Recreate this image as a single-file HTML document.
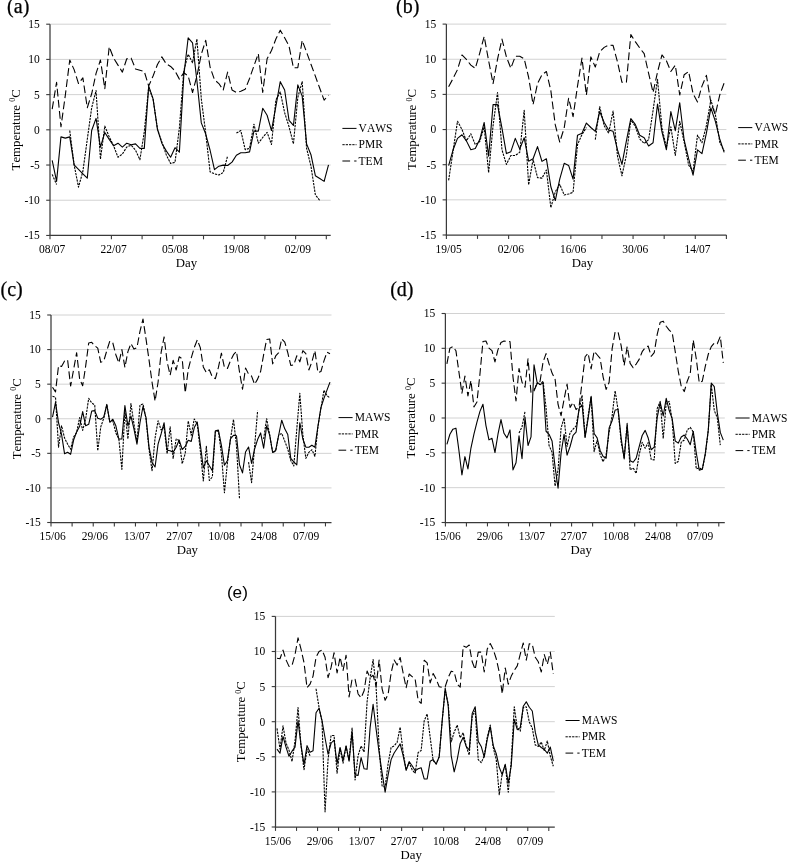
<!DOCTYPE html>
<html><head><meta charset="utf-8"><title>Figure</title>
<style>
html,body{margin:0;padding:0;background:#fff;}
svg{display:block;}
text{font-family:"Liberation Serif",serif;fill:#000;font-kerning:none;}
.t{font-size:11.5px;}
.a{font-size:12.8px;}
.l{font-size:11.5px;}
.p{font-size:20px;stroke:#000;stroke-width:0.25px;}
.ps{font-size:17.2px;font-family:"Liberation Sans",sans-serif;}
</style></head><body>
<svg width="790" height="865" viewBox="0 0 790 865">
<rect width="790" height="865" fill="#fff"/>
<g id="panel-a">
<line x1="50" x2="330.7" y1="24.2" y2="24.2" stroke="#d2d2d2" stroke-width="1"/>
<line x1="50" x2="330.7" y1="59.41" y2="59.41" stroke="#d2d2d2" stroke-width="1"/>
<line x1="50" x2="330.7" y1="94.62" y2="94.62" stroke="#d2d2d2" stroke-width="1"/>
<line x1="50" x2="330.7" y1="129.82" y2="129.82" stroke="#d2d2d2" stroke-width="1"/>
<line x1="50" x2="330.7" y1="165.03" y2="165.03" stroke="#d2d2d2" stroke-width="1"/>
<line x1="50" x2="330.7" y1="200.24" y2="200.24" stroke="#d2d2d2" stroke-width="1"/>
<polyline points="52.19,109.05 56.58,82.29 60.96,126.8 65.35,95.04 69.74,60.04 74.12,69.62 78.51,83.56 82.89,77.86 87.28,107.71 91.67,93.77 96.05,73.42 100.44,60.04 104.82,88.7 109.21,46.73 113.6,58.14 117.98,65.11 122.37,72.15 126.75,58.77 131.14,58.14 135.53,68.98 139.91,70.25 144.3,71.52 148.68,86.1 153.07,75.96 157.46,64.48 161.84,56.87 166.23,63.84 170.61,66.45 175,70.89 179.39,79.12 183.77,72.79 188.16,75.96 192.54,92.5 196.93,75.96 201.31,54.34 205.7,40.33 210.09,67.08 214.47,79.76 218.86,83.56 223.24,89.97 227.63,72.15 232.02,89.97 236.4,92.5 240.79,91.24 245.17,89.34 249.56,78.49 253.95,65.75 258.33,53.7 262.72,92.5 267.1,58.77 271.49,50.54 275.88,39.06 280.26,30.19 284.65,37.79 289.03,46.1 293.42,67.72 297.81,67.72 302.19,40.33 306.58,52.16 310.96,64.27 315.35,76.1 319.74,88.28 324.12,100.11 328.51,95.04" fill="none" stroke="#000" stroke-width="1.1" stroke-linejoin="round" stroke-dasharray="7.8 3.4"/>
<polyline points="52.19,174.4 56.58,184.54" fill="none" stroke="#000" stroke-width="1.1" stroke-linejoin="round" stroke-dasharray="2.3 1"/>
<polyline points="69.74,130.53 74.12,164.82 78.51,187.14 82.89,171.23 87.28,139.4 91.67,107.78 96.05,90.6 100.44,159.12 104.82,126.09 109.21,136.87 113.6,145.81 117.98,157.22 122.37,154.05 126.75,147.08 131.14,145.18 135.53,150.25 139.91,159.75 144.3,131.8 148.68,87.29 153.07,98.84 157.46,129.26 161.84,141.94 166.23,154.68 170.61,163.55 175,162.29 179.39,127.99 183.77,70.89 188.16,54.34 192.54,62.65 196.93,39.06 201.31,98.84 205.7,133.06 210.09,171.86 214.47,173.77 218.86,175.03 223.24,172.5 227.63,155.95" fill="none" stroke="#000" stroke-width="1.1" stroke-linejoin="round" stroke-dasharray="2.3 1"/>
<polyline points="236.4,133.06 240.79,130.53 245.17,149.61 249.56,148.34 253.95,124.19 258.33,143.2 262.72,137.5 267.1,132.43 271.49,144.54 275.88,99.97 280.26,91.87 284.65,112.71 289.03,126.73 293.42,143.84 297.81,97.43 302.19,81.66 306.58,148.34 310.96,166.16 315.35,194.75 319.74,200.45" fill="none" stroke="#000" stroke-width="1.1" stroke-linejoin="round" stroke-dasharray="2.3 1"/>
<polyline points="52.19,160.39 56.58,181.37 60.96,136.87 65.35,138.13 69.74,136.87 74.12,164.82 78.51,169.33 82.89,173.77 87.28,178.2 91.67,130.53 96.05,118.42 100.44,147.08 104.82,132.43 109.21,139.4 113.6,145.81 117.98,143.2 122.37,147.08 126.75,143.2 131.14,144.75 135.53,143.84 139.91,148.34 144.3,148.34 148.68,86.17 153.07,98.84 157.46,129.26 161.84,143.2 166.23,150.88 170.61,157.22 175,147.71 179.39,152.15 183.77,75.96 188.16,37.79 192.54,42.93 196.93,81.03 201.31,122.92 205.7,134.05 210.09,150.25 214.47,169.68 218.86,166.16 223.24,165.1 227.63,165.53 232.02,162.08 236.4,155.32 240.79,152.78 245.17,152.78 249.56,151.87 253.95,131.16 258.33,131.16 262.72,108.28 267.1,115.25 271.49,130.53 275.88,106.38 280.26,81.66 284.65,89.97 289.03,120.32 293.42,125.46 297.81,84.9 302.19,96.17 306.58,143.84 310.96,154.68 315.35,175.67 319.74,178.48 324.12,181.37 328.51,164.82" fill="none" stroke="#000" stroke-width="1.1" stroke-linejoin="round" />
<line x1="50" x2="50" y1="24.2" y2="235.45" stroke="#3a3a3a" stroke-width="1.25"/>
<line x1="49.4" x2="330.7" y1="235.45" y2="235.45" stroke="#3a3a3a" stroke-width="1.25"/>
<line x1="46.2" x2="50" y1="24.2" y2="24.2" stroke="#3a3a3a" stroke-width="1.1"/>
<text x="39.8" y="28.1" text-anchor="end" class="t">15</text>
<line x1="46.2" x2="50" y1="59.41" y2="59.41" stroke="#3a3a3a" stroke-width="1.1"/>
<text x="39.8" y="63.31" text-anchor="end" class="t">10</text>
<line x1="46.2" x2="50" y1="94.62" y2="94.62" stroke="#3a3a3a" stroke-width="1.1"/>
<text x="39.8" y="98.52" text-anchor="end" class="t">5</text>
<line x1="46.2" x2="50" y1="129.82" y2="129.82" stroke="#3a3a3a" stroke-width="1.1"/>
<text x="39.8" y="133.72" text-anchor="end" class="t">0</text>
<line x1="46.2" x2="50" y1="165.03" y2="165.03" stroke="#3a3a3a" stroke-width="1.1"/>
<text x="39.8" y="168.93" text-anchor="end" class="t">-5</text>
<line x1="46.2" x2="50" y1="200.24" y2="200.24" stroke="#3a3a3a" stroke-width="1.1"/>
<text x="39.8" y="204.14" text-anchor="end" class="t">-10</text>
<line x1="46.2" x2="50" y1="235.45" y2="235.45" stroke="#3a3a3a" stroke-width="1.1"/>
<text x="39.8" y="239.35" text-anchor="end" class="t">-15</text>
<line x1="50" x2="50" y1="235.45" y2="239.35" stroke="#3a3a3a" stroke-width="1.1"/>
<line x1="80.7" x2="80.7" y1="235.45" y2="239.35" stroke="#3a3a3a" stroke-width="1.1"/>
<line x1="111.4" x2="111.4" y1="235.45" y2="239.35" stroke="#3a3a3a" stroke-width="1.1"/>
<line x1="142.1" x2="142.1" y1="235.45" y2="239.35" stroke="#3a3a3a" stroke-width="1.1"/>
<line x1="172.81" x2="172.81" y1="235.45" y2="239.35" stroke="#3a3a3a" stroke-width="1.1"/>
<line x1="203.51" x2="203.51" y1="235.45" y2="239.35" stroke="#3a3a3a" stroke-width="1.1"/>
<line x1="234.21" x2="234.21" y1="235.45" y2="239.35" stroke="#3a3a3a" stroke-width="1.1"/>
<line x1="264.91" x2="264.91" y1="235.45" y2="239.35" stroke="#3a3a3a" stroke-width="1.1"/>
<line x1="295.61" x2="295.61" y1="235.45" y2="239.35" stroke="#3a3a3a" stroke-width="1.1"/>
<line x1="326.31" x2="326.31" y1="235.45" y2="239.35" stroke="#3a3a3a" stroke-width="1.1"/>
<text x="52.2" y="253.35" text-anchor="middle" class="t">08/07</text>
<text x="113.6" y="253.35" text-anchor="middle" class="t">22/07</text>
<text x="175.01" y="253.35" text-anchor="middle" class="t">05/08</text>
<text x="236.41" y="253.35" text-anchor="middle" class="t">19/08</text>
<text x="297.81" y="253.35" text-anchor="middle" class="t">02/09</text>
<text x="186.45" y="266.95" text-anchor="middle" class="a">Day</text>
<text transform="translate(19.6,129.82) rotate(-90)" text-anchor="middle" class="a">Temperature <tspan font-size="8" dy="-4.5">0</tspan><tspan dy="4.5">C</tspan></text>
<line x1="342.4" x2="356.5" y1="128.4" y2="128.4" stroke="#000" stroke-width="1" />
<text x="358.6" y="132" class="l">VAWS</text>
<line x1="342.4" x2="356.5" y1="144.7" y2="144.7" stroke="#000" stroke-width="1" stroke-dasharray="2.3 1"/>
<text x="358.6" y="148.3" class="l">PMR</text>
<line x1="342.4" x2="356.5" y1="161" y2="161" stroke="#000" stroke-width="1" stroke-dasharray="7.7 4.1"/>
<text x="358.6" y="164.6" class="l">TEM</text>
<text x="7.1" y="13.3" class="p">(a)</text>
</g>
<g id="panel-b">
<line x1="446.4" x2="726.4" y1="24.1" y2="24.1" stroke="#d2d2d2" stroke-width="1"/>
<line x1="446.4" x2="726.4" y1="59.25" y2="59.25" stroke="#d2d2d2" stroke-width="1"/>
<line x1="446.4" x2="726.4" y1="94.4" y2="94.4" stroke="#d2d2d2" stroke-width="1"/>
<line x1="446.4" x2="726.4" y1="129.55" y2="129.55" stroke="#d2d2d2" stroke-width="1"/>
<line x1="446.4" x2="726.4" y1="164.7" y2="164.7" stroke="#d2d2d2" stroke-width="1"/>
<line x1="446.4" x2="726.4" y1="199.85" y2="199.85" stroke="#d2d2d2" stroke-width="1"/>
<polyline points="448.62,86.74 453.07,78.51 457.51,69.58 461.96,54.96 466.4,59.39 470.84,65.16 475.29,68.32 479.73,53.06 484.18,36.54 488.62,60.73 493.07,83.57 497.51,59.39 501.96,39.07 506.4,56.86 510.84,68.32 515.29,56.23 519.73,56.23 524.18,58.76 528.62,77.25 533.07,104.59 537.51,83.57 541.96,74.72 546.4,71.48 550.84,90.6 555.29,124.91 559.73,142.06 564.18,128.07 568.62,98.2 573.07,116.61 577.51,86.1 581.96,58.13 586.4,95.03 590.84,56.86 595.29,67.05 599.73,51.8 604.18,47.37 608.62,45.19 613.07,45.4 617.51,61.99 621.96,82.31 626.4,82.31 630.84,34.65 635.29,41.6 639.73,48 644.18,53.7 648.62,73.38 653.07,92.5 657.51,72.11 661.96,54.96 666.4,60.73 670.84,71.48 675.29,65.16 679.73,95.03 684.18,74.72 688.62,71.48 693.07,93.77 697.51,101.99 701.96,86.1 706.4,75.35 710.84,102.63 715.29,114.72 719.73,95.03 724.18,82.94" fill="none" stroke="#000" stroke-width="1.1" stroke-linejoin="round" stroke-dasharray="7.8 3.4"/>
<polyline points="448.62,180.31 453.07,151.06 457.51,121.18 461.96,129.41 466.4,140.87 470.84,133.84 475.29,144.66 479.73,141.5 484.18,126.88 488.62,172.64 493.07,125.61 497.51,92.57 501.96,149.8 506.4,164.42 510.84,155.49 515.29,155.49 519.73,152.33 524.18,110.36 528.62,184.74 533.07,159.36 537.51,177.64 541.96,178.13 546.4,170.04 550.84,207.65 555.29,191.91 559.73,184.24 564.18,194.93 568.62,193.94 573.07,192.4 577.51,144.66 581.96,134.54 586.4,127.51" fill="none" stroke="#000" stroke-width="1.1" stroke-linejoin="round" stroke-dasharray="2.3 1"/>
<polyline points="595.29,139.6 599.73,106.56 604.18,125.61 608.62,133.21 613.07,110.99 617.51,156.12 621.96,175.81 626.4,154.86 630.84,119.92 635.29,126.25 639.73,138.97 644.18,143.4 648.62,139.6 653.07,110.36 657.51,79.22 661.96,128.14 666.4,147.2 670.84,126.88 675.29,155.49 679.73,121.18 684.18,142.13 688.62,165.05 693.07,171.38 697.51,135.17 701.96,142.77 706.4,125.61 710.84,100.16 715.29,114.15 719.73,142.13 724.18,151.06" fill="none" stroke="#000" stroke-width="1.1" stroke-linejoin="round" stroke-dasharray="2.3 1"/>
<polyline points="448.62,165.68 453.07,149.8 457.51,138.34 461.96,134.75 466.4,140.87 470.84,149.8 475.29,148.53 479.73,139.6 484.18,122.45 488.62,156.12 493.07,104.59 497.51,104.59 501.96,128.14 506.4,153.59 510.84,151.69 515.29,138.34 519.73,149.16 524.18,137.7 528.62,161.19 533.07,158.79 537.51,146.63 541.96,161.4 546.4,158.79 550.84,186.77 555.29,200.55 559.73,179.18 564.18,163.36 568.62,165.4 573.07,179.18 577.51,135.17 581.96,133.21 586.4,123.08 590.84,127.51 595.29,131.31 599.73,111.62 604.18,122.45 608.62,130.04 613.07,131.31 617.51,149.8 621.96,164.42 626.4,140.87 630.84,118.58 635.29,124.35 639.73,135.17 644.18,137.7 648.62,145.93 653.07,142.77 657.51,103.96 661.96,131.94 666.4,149.8 670.84,111.62 675.29,130.67 679.73,102.7 684.18,140.24 688.62,158.65 693.07,175.17 697.51,149.8 701.96,153.59 706.4,133.21 710.84,107.83 715.29,121.18 719.73,138.97 724.18,152.33" fill="none" stroke="#000" stroke-width="1.1" stroke-linejoin="round" />
<line x1="446.4" x2="446.4" y1="24.1" y2="235" stroke="#3a3a3a" stroke-width="1.25"/>
<line x1="445.8" x2="726.4" y1="235" y2="235" stroke="#3a3a3a" stroke-width="1.25"/>
<line x1="442.6" x2="446.4" y1="24.1" y2="24.1" stroke="#3a3a3a" stroke-width="1.1"/>
<text x="436.2" y="28" text-anchor="end" class="t">15</text>
<line x1="442.6" x2="446.4" y1="59.25" y2="59.25" stroke="#3a3a3a" stroke-width="1.1"/>
<text x="436.2" y="63.15" text-anchor="end" class="t">10</text>
<line x1="442.6" x2="446.4" y1="94.4" y2="94.4" stroke="#3a3a3a" stroke-width="1.1"/>
<text x="436.2" y="98.3" text-anchor="end" class="t">5</text>
<line x1="442.6" x2="446.4" y1="129.55" y2="129.55" stroke="#3a3a3a" stroke-width="1.1"/>
<text x="436.2" y="133.45" text-anchor="end" class="t">0</text>
<line x1="442.6" x2="446.4" y1="164.7" y2="164.7" stroke="#3a3a3a" stroke-width="1.1"/>
<text x="436.2" y="168.6" text-anchor="end" class="t">-5</text>
<line x1="442.6" x2="446.4" y1="199.85" y2="199.85" stroke="#3a3a3a" stroke-width="1.1"/>
<text x="436.2" y="203.75" text-anchor="end" class="t">-10</text>
<line x1="442.6" x2="446.4" y1="235" y2="235" stroke="#3a3a3a" stroke-width="1.1"/>
<text x="436.2" y="238.9" text-anchor="end" class="t">-15</text>
<line x1="446.4" x2="446.4" y1="235" y2="238.9" stroke="#3a3a3a" stroke-width="1.1"/>
<line x1="477.51" x2="477.51" y1="235" y2="238.9" stroke="#3a3a3a" stroke-width="1.1"/>
<line x1="508.62" x2="508.62" y1="235" y2="238.9" stroke="#3a3a3a" stroke-width="1.1"/>
<line x1="539.73" x2="539.73" y1="235" y2="238.9" stroke="#3a3a3a" stroke-width="1.1"/>
<line x1="570.84" x2="570.84" y1="235" y2="238.9" stroke="#3a3a3a" stroke-width="1.1"/>
<line x1="601.96" x2="601.96" y1="235" y2="238.9" stroke="#3a3a3a" stroke-width="1.1"/>
<line x1="633.07" x2="633.07" y1="235" y2="238.9" stroke="#3a3a3a" stroke-width="1.1"/>
<line x1="664.18" x2="664.18" y1="235" y2="238.9" stroke="#3a3a3a" stroke-width="1.1"/>
<line x1="695.29" x2="695.29" y1="235" y2="238.9" stroke="#3a3a3a" stroke-width="1.1"/>
<line x1="726.4" x2="726.4" y1="235" y2="238.9" stroke="#3a3a3a" stroke-width="1.1"/>
<text x="448.6" y="252.9" text-anchor="middle" class="t">19/05</text>
<text x="510.82" y="252.9" text-anchor="middle" class="t">02/06</text>
<text x="573.04" y="252.9" text-anchor="middle" class="t">16/06</text>
<text x="635.27" y="252.9" text-anchor="middle" class="t">30/06</text>
<text x="697.49" y="252.9" text-anchor="middle" class="t">14/07</text>
<text x="582.5" y="266.5" text-anchor="middle" class="a">Day</text>
<text transform="translate(416,129.55) rotate(-90)" text-anchor="middle" class="a">Temperature <tspan font-size="8" dy="-4.5">0</tspan><tspan dy="4.5">C</tspan></text>
<line x1="738.2" x2="752.3" y1="127.6" y2="127.6" stroke="#000" stroke-width="1" />
<text x="754.4" y="131.2" class="l">VAWS</text>
<line x1="738.2" x2="752.3" y1="143.9" y2="143.9" stroke="#000" stroke-width="1" stroke-dasharray="2.3 1"/>
<text x="754.4" y="147.5" class="l">PMR</text>
<line x1="738.2" x2="752.3" y1="160.2" y2="160.2" stroke="#000" stroke-width="1" stroke-dasharray="7.7 4.1"/>
<text x="754.4" y="163.8" class="l">TEM</text>
<text x="396" y="13.1" class="p">(b)</text>
</g>
<g id="panel-c">
<line x1="51" x2="331.5" y1="315" y2="315" stroke="#d2d2d2" stroke-width="1"/>
<line x1="51" x2="331.5" y1="349.58" y2="349.58" stroke="#d2d2d2" stroke-width="1"/>
<line x1="51" x2="331.5" y1="384.17" y2="384.17" stroke="#d2d2d2" stroke-width="1"/>
<line x1="51" x2="331.5" y1="418.75" y2="418.75" stroke="#d2d2d2" stroke-width="1"/>
<line x1="51" x2="331.5" y1="453.33" y2="453.33" stroke="#d2d2d2" stroke-width="1"/>
<line x1="51" x2="331.5" y1="487.92" y2="487.92" stroke="#d2d2d2" stroke-width="1"/>
<polyline points="52.51,387.28 55.52,391.84 58.54,365.7 61.56,366.46 64.57,361.06 67.59,359.82 70.6,386.03 73.62,369.5 76.64,352.7 79.65,379.12 82.67,385.76 85.69,365.91 88.7,343.01 91.72,342.32 94.73,345.78 97.75,348.13 100.77,362.38 103.78,360.86 106.8,350.69 109.81,341.01 112.83,343.01 115.85,354.7 118.86,362.86 121.88,349.65 124.9,367.43 127.91,351.66 130.93,343.57 133.94,349.1 136.96,347.58 139.98,331.32 142.99,319.15 146.01,338.93 149.02,359.82 152.04,382.23 155.06,401.04 158.07,382.23 161.09,352.7 164.1,336.93 167.12,361.83 170.14,375.11 173.15,360.3 176.17,369.99 179.19,356.78 182.2,358.78 185.22,392.88 188.23,369.5 191.25,357.81 194.27,347.58 197.28,339.97 200.3,347.58 203.31,366.94 206.33,372.55 209.35,369.78 212.36,377.11 215.38,378.63 218.4,367.43 221.41,353.18 224.43,367.43 227.44,368.47 230.46,360.65 233.48,354.7 236.49,351.45 239.51,371.99 242.52,389.29 245.54,367.98 248.56,374.07 251.57,376.07 254.59,384.24 257.6,379.12 260.62,371.51 263.64,354.7 266.65,339.49 269.67,338.93 272.69,363.9 275.7,355.95 278.72,352.7 281.73,338.93 284.75,342.04 287.77,352.7 290.78,365.42 293.8,364.87 296.81,355.74 299.83,361.83 302.85,350.69 305.86,353.73 308.88,369.99 311.9,361.83 314.91,350.69 317.93,372.55 320.94,371.51 323.96,360.86 326.98,352.21 329.99,353.73" fill="none" stroke="#000" stroke-width="1.1" stroke-linejoin="round" stroke-dasharray="7.8 3.4"/>
<polyline points="52.51,396.34 55.52,397.31 58.54,447.18 61.56,425.81 64.57,438.05 67.59,444.13 70.6,449.18 73.62,437.01 76.64,432.44 79.65,417.64 82.67,430.37 85.69,418.68 88.7,398.35 91.72,402.91 94.73,404.99 97.75,450.77 100.77,426.84 103.78,418.2 106.8,404.99 109.81,421.72 112.83,420.76 115.85,432.93 118.86,439.02 121.88,469.45 124.9,410.59 127.91,439.02 130.93,403.46 133.94,423.8 136.96,442.06 139.98,404.99 142.99,403.95 146.01,418.68 149.02,449.18 152.04,470.76 155.06,438.05 158.07,420.76 161.09,429.89 164.1,426.84 167.12,453.82 170.14,426.84 173.15,458.38 176.17,439.02 179.19,440.54 182.2,463.78 185.22,453.54 188.23,421.03 191.25,435.28 194.27,418.96 197.28,424.08 200.3,450.5 203.31,481.07 206.33,446.42 209.35,480.52 212.36,476.99 215.38,431.2 218.4,431.2 221.41,453.54 224.43,492.76 227.44,462.74 230.46,439.36 233.48,419.51 236.49,445.45 239.51,499.33" fill="none" stroke="#000" stroke-width="1.1" stroke-linejoin="round" stroke-dasharray="2.3 1"/>
<polyline points="248.56,462.19 251.57,482.59 254.59,446.97 257.6,410.87" fill="none" stroke="#000" stroke-width="1.1" stroke-linejoin="round" stroke-dasharray="2.3 1"/>
<polyline points="263.64,439.02 266.65,418.68 269.67,435 272.69,452.78 275.7,450.77 278.72,435 281.73,433.41 284.75,441.09 287.77,449.18 290.78,460.39 293.8,465.99 296.81,428.85 299.83,393.23 302.85,435 305.86,458.38 308.88,452.3 311.9,449.74 314.91,456.31 317.93,426.84 320.94,408.51 323.96,390.18 326.98,395.79 329.99,397.86" fill="none" stroke="#000" stroke-width="1.1" stroke-linejoin="round" stroke-dasharray="2.3 1"/>
<polyline points="52.51,417.16 55.52,402.43 58.54,422.76 61.56,434.45 64.57,453.82 67.59,452.3 70.6,454.3 73.62,440.05 76.64,431.89 79.65,426.29 82.67,411.56 85.69,425.81 88.7,424.28 91.72,411.07 94.73,410.59 97.75,418.2 100.77,419.23 103.78,417.16 106.8,404.43 109.81,422.28 112.83,419.23 115.85,425.81 118.86,439.02 121.88,439.02 124.9,405.47 127.91,425.81 130.93,416.12 133.94,428.85 136.96,444.13 139.98,422.76 142.99,406.51 146.01,417.64 149.02,447.18 152.04,462.46 155.06,467.03 158.07,444.13 161.09,433.97 164.1,422.76 167.12,450.22 170.14,450.77 173.15,452.3 176.17,447.18 179.19,440.05 182.2,449.53 185.22,446.42 188.23,440.33 191.25,441.37 194.27,427.6 197.28,422 200.3,444.41 203.31,467.79 206.33,460.66 209.35,465.78 212.36,470.83 215.38,430.72 218.4,430.16 221.41,445.45 224.43,465.3 227.44,460.66 230.46,438.81 233.48,435.28 236.49,435.76 239.51,464.75 242.52,472.91 245.54,452.02 248.56,446.97 251.57,463.43 254.59,449.18 257.6,439.57 260.62,432.93 263.64,448.22 266.65,425.81 269.67,435 272.69,452.5 275.7,450.43 278.72,435 281.73,420.2 284.75,428.85 287.77,434.45 290.78,458.38 293.8,461.91 296.81,464.95 299.83,422.76 302.85,439.02 305.86,447.18 308.88,447.18 311.9,445.17 314.91,447.18 317.93,426.29 320.94,407.48 323.96,398.35 326.98,390.18 329.99,382.09" fill="none" stroke="#000" stroke-width="1.1" stroke-linejoin="round" />
<line x1="51" x2="51" y1="315" y2="522.5" stroke="#3a3a3a" stroke-width="1.25"/>
<line x1="50.4" x2="331.5" y1="522.5" y2="522.5" stroke="#3a3a3a" stroke-width="1.25"/>
<line x1="47.2" x2="51" y1="315" y2="315" stroke="#3a3a3a" stroke-width="1.1"/>
<text x="40.8" y="318.9" text-anchor="end" class="t">15</text>
<line x1="47.2" x2="51" y1="349.58" y2="349.58" stroke="#3a3a3a" stroke-width="1.1"/>
<text x="40.8" y="353.48" text-anchor="end" class="t">10</text>
<line x1="47.2" x2="51" y1="384.17" y2="384.17" stroke="#3a3a3a" stroke-width="1.1"/>
<text x="40.8" y="388.07" text-anchor="end" class="t">5</text>
<line x1="47.2" x2="51" y1="418.75" y2="418.75" stroke="#3a3a3a" stroke-width="1.1"/>
<text x="40.8" y="422.65" text-anchor="end" class="t">0</text>
<line x1="47.2" x2="51" y1="453.33" y2="453.33" stroke="#3a3a3a" stroke-width="1.1"/>
<text x="40.8" y="457.23" text-anchor="end" class="t">-5</text>
<line x1="47.2" x2="51" y1="487.92" y2="487.92" stroke="#3a3a3a" stroke-width="1.1"/>
<text x="40.8" y="491.82" text-anchor="end" class="t">-10</text>
<line x1="47.2" x2="51" y1="522.5" y2="522.5" stroke="#3a3a3a" stroke-width="1.1"/>
<text x="40.8" y="526.4" text-anchor="end" class="t">-15</text>
<line x1="51" x2="51" y1="522.5" y2="526.4" stroke="#3a3a3a" stroke-width="1.1"/>
<line x1="72.11" x2="72.11" y1="522.5" y2="526.4" stroke="#3a3a3a" stroke-width="1.1"/>
<line x1="93.23" x2="93.23" y1="522.5" y2="526.4" stroke="#3a3a3a" stroke-width="1.1"/>
<line x1="114.34" x2="114.34" y1="522.5" y2="526.4" stroke="#3a3a3a" stroke-width="1.1"/>
<line x1="135.45" x2="135.45" y1="522.5" y2="526.4" stroke="#3a3a3a" stroke-width="1.1"/>
<line x1="156.56" x2="156.56" y1="522.5" y2="526.4" stroke="#3a3a3a" stroke-width="1.1"/>
<line x1="177.68" x2="177.68" y1="522.5" y2="526.4" stroke="#3a3a3a" stroke-width="1.1"/>
<line x1="198.79" x2="198.79" y1="522.5" y2="526.4" stroke="#3a3a3a" stroke-width="1.1"/>
<line x1="219.9" x2="219.9" y1="522.5" y2="526.4" stroke="#3a3a3a" stroke-width="1.1"/>
<line x1="241.02" x2="241.02" y1="522.5" y2="526.4" stroke="#3a3a3a" stroke-width="1.1"/>
<line x1="262.13" x2="262.13" y1="522.5" y2="526.4" stroke="#3a3a3a" stroke-width="1.1"/>
<line x1="283.24" x2="283.24" y1="522.5" y2="526.4" stroke="#3a3a3a" stroke-width="1.1"/>
<line x1="304.35" x2="304.35" y1="522.5" y2="526.4" stroke="#3a3a3a" stroke-width="1.1"/>
<line x1="325.47" x2="325.47" y1="522.5" y2="526.4" stroke="#3a3a3a" stroke-width="1.1"/>
<text x="52.7" y="540.4" text-anchor="middle" class="t">15/06</text>
<text x="94.93" y="540.4" text-anchor="middle" class="t">29/06</text>
<text x="137.15" y="540.4" text-anchor="middle" class="t">13/07</text>
<text x="179.38" y="540.4" text-anchor="middle" class="t">27/07</text>
<text x="221.6" y="540.4" text-anchor="middle" class="t">10/08</text>
<text x="263.83" y="540.4" text-anchor="middle" class="t">24/08</text>
<text x="306.05" y="540.4" text-anchor="middle" class="t">07/09</text>
<text x="187.35" y="554" text-anchor="middle" class="a">Day</text>
<text transform="translate(20.6,418.75) rotate(-90)" text-anchor="middle" class="a">Temperature <tspan font-size="8" dy="-4.5">0</tspan><tspan dy="4.5">C</tspan></text>
<line x1="338.5" x2="352.6" y1="417.6" y2="417.6" stroke="#000" stroke-width="1" />
<text x="354.7" y="421.2" class="l">MAWS</text>
<line x1="338.5" x2="352.6" y1="433.9" y2="433.9" stroke="#000" stroke-width="1" stroke-dasharray="2.3 1"/>
<text x="354.7" y="437.5" class="l">PMR</text>
<line x1="338.5" x2="352.6" y1="450.2" y2="450.2" stroke="#000" stroke-width="1" stroke-dasharray="7.7 4.1"/>
<text x="354.7" y="453.8" class="l">TEM</text>
<text x="0.5" y="295.6" class="p">(c)</text>
</g>
<g id="panel-d">
<line x1="445.4" x2="724.8" y1="313.5" y2="313.5" stroke="#d2d2d2" stroke-width="1"/>
<line x1="445.4" x2="724.8" y1="348.33" y2="348.33" stroke="#d2d2d2" stroke-width="1"/>
<line x1="445.4" x2="724.8" y1="383.17" y2="383.17" stroke="#d2d2d2" stroke-width="1"/>
<line x1="445.4" x2="724.8" y1="418" y2="418" stroke="#d2d2d2" stroke-width="1"/>
<line x1="445.4" x2="724.8" y1="452.83" y2="452.83" stroke="#d2d2d2" stroke-width="1"/>
<line x1="445.4" x2="724.8" y1="487.67" y2="487.67" stroke="#d2d2d2" stroke-width="1"/>
<polyline points="446.9,363.87 449.91,348.12 452.91,346.59 455.92,350.7 458.92,372.02 461.92,393.27 464.93,376.13 467.93,395.85 470.94,380.59 473.94,407.06 476.95,401.98 479.95,374.04 482.95,341.51 485.96,341.02 488.96,348.12 491.97,350.7 494.97,361.85 497.98,349.66 500.98,342.55 503.98,341.02 506.99,341.51 509.99,341.51 513,377.11 516,400.93 519.01,368.47 522.01,382.19 525.01,387.28 528.02,358.78 531.02,392.78 534.03,390.83 537.03,383.86 540.04,381.29 543.04,362.27 546.04,353.63 549.05,363.87 552.05,373.06 555.06,379.06 558.06,404.48 561.07,415.7 564.07,399.4 567.07,384.14 570.08,407.55 573.08,402.46 576.09,409.57 579.09,406.5 582.1,382.12 585.1,356.76 588.1,353.21 591.11,368.95 594.11,351.19 597.12,354.74 600.12,358.3 603.13,377.11 606.13,389.37 609.13,382.19 612.14,348.61 615.14,331.82 618.15,332.38 621.15,345.62 624.16,365.4 627.16,346.59 630.16,363.38 633.17,367.77 636.17,364.08 639.18,359.34 642.18,351.68 645.19,347.64 648.19,346.1 651.19,356.28 654.2,352.72 657.2,334.4 660.21,322.21 663.21,321.16 666.22,326.25 669.22,330.15 672.22,332.87 675.23,351.68 678.23,371.04 681.24,386.3 684.24,391.6 687.25,381.22 690.25,373.55 693.25,339.97 696.26,358.78 699.26,382.75 702.27,381.22 705.27,366.45 708.28,354.25 711.28,346.59 714.28,343.04 717.29,343.74 720.29,336.42 723.3,362.89" fill="none" stroke="#000" stroke-width="1.1" stroke-linejoin="round" stroke-dasharray="7.8 3.4"/>
<polyline points="519.01,432.98 522.01,426.85 525.01,411.59" fill="none" stroke="#000" stroke-width="1.1" stroke-linejoin="round" stroke-dasharray="2.3 1"/>
<polyline points="534.03,390.2 537.03,383.1 540.04,384.63 543.04,381.08 546.04,407.83 549.05,445.45 552.05,452.28 555.06,486.13 558.06,469.9 561.07,428.17 564.07,418 567.07,446.49 570.08,432.77 573.08,429.22 576.09,426.15 579.09,410.06 582.1,395.29 585.1,437.02 588.1,416.19 591.11,396.82 594.11,451.58 597.12,440.36 600.12,454.64 603.13,461.75 606.13,454.64 609.13,432.21 612.14,415.63 615.14,390.76 618.15,410.55 621.15,442.1 624.16,457.64 627.16,423.29 630.16,469.9 633.17,467.88 636.17,473.45 639.18,454.64 642.18,442.38 645.19,448.24 648.19,442.59 651.19,459.38 654.2,459.94 657.2,408.53 660.21,401.42 663.21,438.55 666.22,402.95 669.22,401.42 672.22,420.72 675.23,463.49 678.23,461.47 681.24,442.1 684.24,440.08 687.25,429.91 690.25,427.34 693.25,431.93 696.26,468.86 699.26,467.88 702.27,469.55 705.27,454.85 708.28,430.89 711.28,384.63 714.28,410.55 717.29,417.72 720.29,445.17" fill="none" stroke="#000" stroke-width="1.1" stroke-linejoin="round" stroke-dasharray="2.3 1"/>
<polyline points="446.9,444.4 449.91,434.23 452.91,429.15 455.92,428.17 458.92,450.53 461.92,474.99 464.93,456.67 467.93,468.86 470.94,448.03 473.94,434.23 476.95,422.04 479.95,411.38 482.95,404.28 485.96,425.59 488.96,439.88 491.97,438.34 494.97,452.55 497.98,434.23 500.98,419.53 503.98,433.26 506.99,437.86 509.99,429.91 513,469.9 516,462.8 519.01,435.83 522.01,458.69 525.01,417.16 528.02,445.45 531.02,436.81 534.03,364.77 537.03,382.05 540.04,384.63 543.04,383.1 546.04,431.24 549.05,434.3 552.05,440.92 555.06,466.84 558.06,488.22 561.07,453.11 564.07,434.3 567.07,455.13 570.08,446.49 573.08,435.28 576.09,432.21 579.09,408.53 582.1,404.69 585.1,437.51 588.1,418.7 591.11,396.33 594.11,433.47 597.12,437.86 600.12,450.46 603.13,456.53 606.13,458.2 609.13,427.89 612.14,420.72 615.14,410.06 618.15,409.57 621.15,438.06 624.16,458.89 627.16,425.66 630.16,460.71 633.17,462.24 636.17,458.2 639.18,446.7 642.18,435.49 645.19,430.4 648.19,438.06 651.19,449.77 654.2,447.19 657.2,417.72 660.21,402.46 663.21,415.98 666.22,398.35 669.22,410.55 672.22,418.7 675.23,441.06 678.23,443.15 681.24,437.02 684.24,435 687.25,439.04 690.25,444.68 693.25,431.45 696.26,452.76 699.26,470.11 702.27,469.34 705.27,453.6 708.28,429.91 711.28,383.1 714.28,386.65 717.29,412.64 720.29,432.42 723.3,440.08" fill="none" stroke="#000" stroke-width="1.1" stroke-linejoin="round" />
<line x1="445.4" x2="445.4" y1="313.5" y2="522.5" stroke="#3a3a3a" stroke-width="1.25"/>
<line x1="444.8" x2="724.8" y1="522.5" y2="522.5" stroke="#3a3a3a" stroke-width="1.25"/>
<line x1="441.6" x2="445.4" y1="313.5" y2="313.5" stroke="#3a3a3a" stroke-width="1.1"/>
<text x="435.2" y="317.4" text-anchor="end" class="t">15</text>
<line x1="441.6" x2="445.4" y1="348.33" y2="348.33" stroke="#3a3a3a" stroke-width="1.1"/>
<text x="435.2" y="352.23" text-anchor="end" class="t">10</text>
<line x1="441.6" x2="445.4" y1="383.17" y2="383.17" stroke="#3a3a3a" stroke-width="1.1"/>
<text x="435.2" y="387.07" text-anchor="end" class="t">5</text>
<line x1="441.6" x2="445.4" y1="418" y2="418" stroke="#3a3a3a" stroke-width="1.1"/>
<text x="435.2" y="421.9" text-anchor="end" class="t">0</text>
<line x1="441.6" x2="445.4" y1="452.83" y2="452.83" stroke="#3a3a3a" stroke-width="1.1"/>
<text x="435.2" y="456.73" text-anchor="end" class="t">-5</text>
<line x1="441.6" x2="445.4" y1="487.67" y2="487.67" stroke="#3a3a3a" stroke-width="1.1"/>
<text x="435.2" y="491.57" text-anchor="end" class="t">-10</text>
<line x1="441.6" x2="445.4" y1="522.5" y2="522.5" stroke="#3a3a3a" stroke-width="1.1"/>
<text x="435.2" y="526.4" text-anchor="end" class="t">-15</text>
<line x1="445.4" x2="445.4" y1="522.5" y2="526.4" stroke="#3a3a3a" stroke-width="1.1"/>
<line x1="466.43" x2="466.43" y1="522.5" y2="526.4" stroke="#3a3a3a" stroke-width="1.1"/>
<line x1="487.46" x2="487.46" y1="522.5" y2="526.4" stroke="#3a3a3a" stroke-width="1.1"/>
<line x1="508.49" x2="508.49" y1="522.5" y2="526.4" stroke="#3a3a3a" stroke-width="1.1"/>
<line x1="529.52" x2="529.52" y1="522.5" y2="526.4" stroke="#3a3a3a" stroke-width="1.1"/>
<line x1="550.55" x2="550.55" y1="522.5" y2="526.4" stroke="#3a3a3a" stroke-width="1.1"/>
<line x1="571.58" x2="571.58" y1="522.5" y2="526.4" stroke="#3a3a3a" stroke-width="1.1"/>
<line x1="592.61" x2="592.61" y1="522.5" y2="526.4" stroke="#3a3a3a" stroke-width="1.1"/>
<line x1="613.64" x2="613.64" y1="522.5" y2="526.4" stroke="#3a3a3a" stroke-width="1.1"/>
<line x1="634.67" x2="634.67" y1="522.5" y2="526.4" stroke="#3a3a3a" stroke-width="1.1"/>
<line x1="655.7" x2="655.7" y1="522.5" y2="526.4" stroke="#3a3a3a" stroke-width="1.1"/>
<line x1="676.73" x2="676.73" y1="522.5" y2="526.4" stroke="#3a3a3a" stroke-width="1.1"/>
<line x1="697.76" x2="697.76" y1="522.5" y2="526.4" stroke="#3a3a3a" stroke-width="1.1"/>
<line x1="718.79" x2="718.79" y1="522.5" y2="526.4" stroke="#3a3a3a" stroke-width="1.1"/>
<text x="447.7" y="540.4" text-anchor="middle" class="t">15/06</text>
<text x="489.76" y="540.4" text-anchor="middle" class="t">29/06</text>
<text x="531.82" y="540.4" text-anchor="middle" class="t">13/07</text>
<text x="573.88" y="540.4" text-anchor="middle" class="t">27/07</text>
<text x="615.94" y="540.4" text-anchor="middle" class="t">10/08</text>
<text x="658" y="540.4" text-anchor="middle" class="t">24/08</text>
<text x="700.06" y="540.4" text-anchor="middle" class="t">07/09</text>
<text x="581.2" y="554" text-anchor="middle" class="a">Day</text>
<text transform="translate(415,418) rotate(-90)" text-anchor="middle" class="a">Temperature <tspan font-size="8" dy="-4.5">0</tspan><tspan dy="4.5">C</tspan></text>
<line x1="735.5" x2="749.6" y1="418" y2="418" stroke="#000" stroke-width="1" />
<text x="751.7" y="421.6" class="l">MAWS</text>
<line x1="735.5" x2="749.6" y1="434.3" y2="434.3" stroke="#000" stroke-width="1" stroke-dasharray="2.3 1"/>
<text x="751.7" y="437.9" class="l">PMR</text>
<line x1="735.5" x2="749.6" y1="450.6" y2="450.6" stroke="#000" stroke-width="1" stroke-dasharray="7.7 4.1"/>
<text x="751.7" y="454.2" class="l">TEM</text>
<text x="390.2" y="295.6" class="p">(d)</text>
</g>
<g id="panel-e">
<line x1="275.5" x2="554.8" y1="616.4" y2="616.4" stroke="#d2d2d2" stroke-width="1"/>
<line x1="275.5" x2="554.8" y1="651.5" y2="651.5" stroke="#d2d2d2" stroke-width="1"/>
<line x1="275.5" x2="554.8" y1="686.6" y2="686.6" stroke="#d2d2d2" stroke-width="1"/>
<line x1="275.5" x2="554.8" y1="721.7" y2="721.7" stroke="#d2d2d2" stroke-width="1"/>
<line x1="275.5" x2="554.8" y1="756.8" y2="756.8" stroke="#d2d2d2" stroke-width="1"/>
<line x1="275.5" x2="554.8" y1="791.9" y2="791.9" stroke="#d2d2d2" stroke-width="1"/>
<polyline points="277,658.24 280,658.73 283.01,650.1 286.01,659.78 289.01,666.38 292.02,665.4 295.02,654.66 298.02,637.88 301.03,649.11 304.03,662.8 307.03,687.72 310.04,684.21 313.04,676.07 316.04,657.26 319.05,651.43 322.05,650.1 325.05,657.26 328.06,677.61 331.06,667.44 334.06,652.69 337.07,672.98 340.07,657.26 343.07,670.45 346.08,655.22 349.08,696.92 352.08,679.09 355.09,679.3 358.09,693.97 361.09,697.76 364.1,690.81 367.1,671.09 370.1,677.75 373.1,675.23 376.11,686.32 379.11,659.99 382.11,688.85 385.12,700.29 388.12,694.25 391.12,672.98 394.13,659.99 397.13,665.05 400.13,657.47 403.14,672.98 406.14,687.72 409.14,674.03 412.15,676.56 415.15,679.09 418.15,700.5 421.16,703.31 424.16,660.27 427.16,662.8 430.17,682.95 433.17,673.54 436.17,679.09 439.18,686.74 442.18,687.44 445.18,686.74 448.19,677.61 451.19,671.16 454.19,672 457.2,684.21 460.2,687.23 463.2,646.02 466.2,647.36 469.21,645.04 472.21,661.82 475.21,669.47 478.22,652.13 481.22,652.13 484.22,672 487.23,649.11 490.23,643.5 493.23,649.39 496.24,658.73 499.24,672 502.24,693.83 505.25,667.93 508.25,684.21 511.25,676.07 514.26,670.45 517.26,665.89 520.26,654.17 523.27,643.01 526.27,660.27 529.27,643.71 532.28,644.55 535.28,657.26 538.28,661.82 541.29,672 544.29,654.66 547.29,664.35 550.3,652.13 553.3,674.03" fill="none" stroke="#000" stroke-width="1.1" stroke-linejoin="round" stroke-dasharray="7.8 3.4"/>
<polyline points="277,728.3 280,749.15 283.01,725.77 286.01,743.04 289.01,750.2 292.02,761.5 295.02,741.08 298.02,707.45 301.03,746.13 304.03,769.65 307.03,749.15 310.04,755.82" fill="none" stroke="#000" stroke-width="1.1" stroke-linejoin="round" stroke-dasharray="2.3 1"/>
<polyline points="316.04,688.78 319.05,707.45 322.05,721.7 325.05,811.84 328.06,759.47 331.06,735.46 334.06,735.46 337.07,773.16 340.07,748.45 343.07,763.19 346.08,746.41 349.08,760.66 352.08,728.09 355.09,779.97 358.09,755.61 361.09,745.92 364.1,752.03 367.1,701.62 370.1,678.25 373.1,659.64 376.11,687.44 379.11,747.46 382.11,786.07 385.12,787.13 388.12,763.68 391.12,747.46 394.13,745.92 397.13,742.34 400.13,727.11 403.14,752.52 406.14,769.79 409.14,762.7 412.15,769.79 415.15,773.37 418.15,752.52 421.16,750.48 424.16,721 427.16,713.84 430.17,737.28 433.17,760.66 436.17,763.68 439.18,756.59 442.18,720.51 445.18,690.46 448.19,703.66 451.19,741.85 454.19,732.16 457.2,725.07 460.2,737.78 463.2,732.65 466.2,746.41 469.21,755.04 472.21,715.87 475.21,710.82 478.22,759.61 481.22,762.7 484.22,756.1 487.23,737.28 490.23,725.07 493.23,747.46 496.24,759.61 499.24,794.71 502.24,773.37 505.25,764.73 508.25,792.18 511.25,761.15 514.26,706.75 517.26,728.09 520.26,731.18 523.27,707.45 526.27,706.75 529.27,721.98 532.28,728.09 535.28,745.08 538.28,746.41 541.29,742.06 544.29,750.48 547.29,741 550.3,756.1 553.3,766.28" fill="none" stroke="#000" stroke-width="1.1" stroke-linejoin="round" stroke-dasharray="2.3 1"/>
<polyline points="277,749.15 280,753.22 283.01,736.44 286.01,747.11 289.01,756.31 292.02,751.18 295.02,747.11 298.02,720.72 301.03,745.08 304.03,764.52 307.03,745.64 310.04,752.24 313.04,750.69 316.04,712.78 319.05,708.29 322.05,720.72 325.05,737.99 328.06,754.27 331.06,743.25 334.06,740.02 337.07,763.54 340.07,747.46 343.07,760.17 346.08,745.92 349.08,761.15 352.08,732.16 355.09,774.91 358.09,775.4 361.09,757.57 364.1,768.8 367.1,769.3 370.1,727.6 373.1,704.22 376.11,729.14 379.11,752.52 382.11,772.88 385.12,792.18 388.12,774.91 391.12,759.61 394.13,753.01 397.13,748.45 400.13,743.88 403.14,755.61 406.14,770.35 409.14,761.64 412.15,765.72 415.15,770.84 418.15,768.8 421.16,767.75 424.16,778.98 427.16,778.98 430.17,761.15 433.17,759.61 436.17,764.24 439.18,757.08 442.18,721 445.18,688.14 448.19,705.69 451.19,755.61 454.19,771.82 457.2,759.61 460.2,743.39 463.2,737.28 466.2,746.41 469.21,749.99 472.21,713.56 475.21,706.75 478.22,741.36 481.22,746.41 484.22,757.08 487.23,739.32 490.23,726.54 493.23,745.57 496.24,753.57 499.24,767.26 502.24,774.91 505.25,764.24 508.25,783.05 511.25,765.72 514.26,719.45 517.26,729.63 520.26,727.6 523.27,706.26 526.27,701.83 529.27,707.24 532.28,711.03 535.28,732.16 538.28,744.87 541.29,747.46 544.29,749.5 547.29,753.22 550.3,747.11 553.3,761.15" fill="none" stroke="#000" stroke-width="1.1" stroke-linejoin="round" />
<line x1="275.5" x2="275.5" y1="616.4" y2="827" stroke="#3a3a3a" stroke-width="1.25"/>
<line x1="274.9" x2="554.8" y1="827" y2="827" stroke="#3a3a3a" stroke-width="1.25"/>
<line x1="271.7" x2="275.5" y1="616.4" y2="616.4" stroke="#3a3a3a" stroke-width="1.1"/>
<text x="265.3" y="620.3" text-anchor="end" class="t">15</text>
<line x1="271.7" x2="275.5" y1="651.5" y2="651.5" stroke="#3a3a3a" stroke-width="1.1"/>
<text x="265.3" y="655.4" text-anchor="end" class="t">10</text>
<line x1="271.7" x2="275.5" y1="686.6" y2="686.6" stroke="#3a3a3a" stroke-width="1.1"/>
<text x="265.3" y="690.5" text-anchor="end" class="t">5</text>
<line x1="271.7" x2="275.5" y1="721.7" y2="721.7" stroke="#3a3a3a" stroke-width="1.1"/>
<text x="265.3" y="725.6" text-anchor="end" class="t">0</text>
<line x1="271.7" x2="275.5" y1="756.8" y2="756.8" stroke="#3a3a3a" stroke-width="1.1"/>
<text x="265.3" y="760.7" text-anchor="end" class="t">-5</text>
<line x1="271.7" x2="275.5" y1="791.9" y2="791.9" stroke="#3a3a3a" stroke-width="1.1"/>
<text x="265.3" y="795.8" text-anchor="end" class="t">-10</text>
<line x1="271.7" x2="275.5" y1="827" y2="827" stroke="#3a3a3a" stroke-width="1.1"/>
<text x="265.3" y="830.9" text-anchor="end" class="t">-15</text>
<line x1="275.5" x2="275.5" y1="827" y2="830.9" stroke="#3a3a3a" stroke-width="1.1"/>
<line x1="296.52" x2="296.52" y1="827" y2="830.9" stroke="#3a3a3a" stroke-width="1.1"/>
<line x1="317.55" x2="317.55" y1="827" y2="830.9" stroke="#3a3a3a" stroke-width="1.1"/>
<line x1="338.57" x2="338.57" y1="827" y2="830.9" stroke="#3a3a3a" stroke-width="1.1"/>
<line x1="359.59" x2="359.59" y1="827" y2="830.9" stroke="#3a3a3a" stroke-width="1.1"/>
<line x1="380.61" x2="380.61" y1="827" y2="830.9" stroke="#3a3a3a" stroke-width="1.1"/>
<line x1="401.64" x2="401.64" y1="827" y2="830.9" stroke="#3a3a3a" stroke-width="1.1"/>
<line x1="422.66" x2="422.66" y1="827" y2="830.9" stroke="#3a3a3a" stroke-width="1.1"/>
<line x1="443.68" x2="443.68" y1="827" y2="830.9" stroke="#3a3a3a" stroke-width="1.1"/>
<line x1="464.7" x2="464.7" y1="827" y2="830.9" stroke="#3a3a3a" stroke-width="1.1"/>
<line x1="485.73" x2="485.73" y1="827" y2="830.9" stroke="#3a3a3a" stroke-width="1.1"/>
<line x1="506.75" x2="506.75" y1="827" y2="830.9" stroke="#3a3a3a" stroke-width="1.1"/>
<line x1="527.77" x2="527.77" y1="827" y2="830.9" stroke="#3a3a3a" stroke-width="1.1"/>
<line x1="548.79" x2="548.79" y1="827" y2="830.9" stroke="#3a3a3a" stroke-width="1.1"/>
<text x="277.8" y="844.9" text-anchor="middle" class="t">15/06</text>
<text x="319.85" y="844.9" text-anchor="middle" class="t">29/06</text>
<text x="361.89" y="844.9" text-anchor="middle" class="t">13/07</text>
<text x="403.94" y="844.9" text-anchor="middle" class="t">27/07</text>
<text x="445.98" y="844.9" text-anchor="middle" class="t">10/08</text>
<text x="488.03" y="844.9" text-anchor="middle" class="t">24/08</text>
<text x="530.07" y="844.9" text-anchor="middle" class="t">07/09</text>
<text x="411.25" y="858.5" text-anchor="middle" class="a">Day</text>
<text transform="translate(245.1,721.7) rotate(-90)" text-anchor="middle" class="a">Temperature <tspan font-size="8" dy="-4.5">0</tspan><tspan dy="4.5">C</tspan></text>
<line x1="565.5" x2="579.6" y1="720.5" y2="720.5" stroke="#000" stroke-width="1" />
<text x="581.7" y="724.1" class="l">MAWS</text>
<line x1="565.5" x2="579.6" y1="736.8" y2="736.8" stroke="#000" stroke-width="1" stroke-dasharray="2.3 1"/>
<text x="581.7" y="740.4" class="l">PMR</text>
<line x1="565.5" x2="579.6" y1="753.1" y2="753.1" stroke="#000" stroke-width="1" stroke-dasharray="7.7 4.1"/>
<text x="581.7" y="756.7" class="l">TEM</text>
<text x="226.9" y="597.8" class="ps">(e)</text>
</g>
</svg>
</body></html>
